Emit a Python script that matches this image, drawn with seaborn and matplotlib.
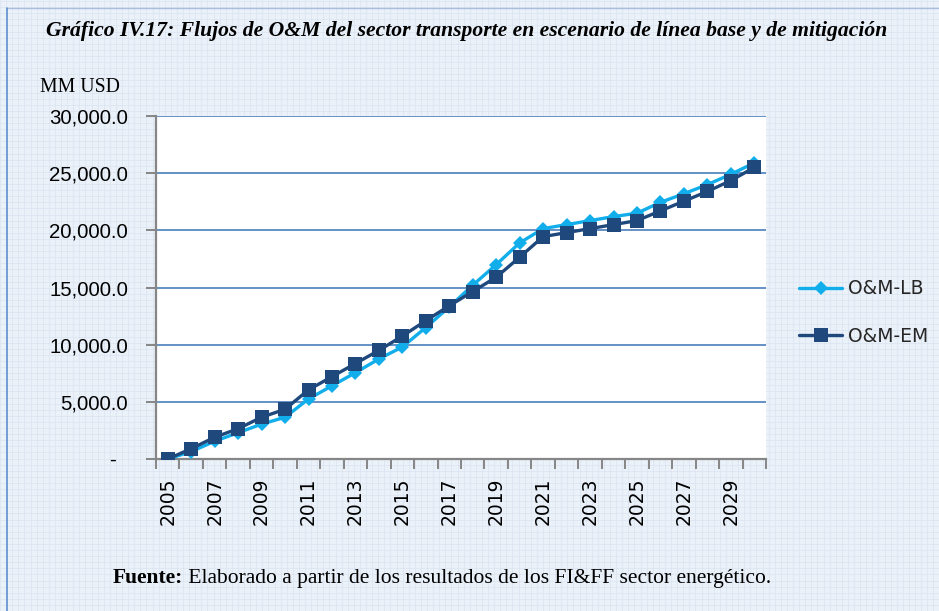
import numpy as np
import pandas as pd
import matplotlib
matplotlib.use("Agg")
import matplotlib.pyplot as plt
from matplotlib.lines import Line2D
import seaborn as sns

# ---------------- data ----------------
years = list(range(2005, 2031))
om_lb = [0, 650, 1550, 2300, 3050, 3650, 5250, 6400, 7550, 8750, 9800, 11500, 13300,
         15200, 17000, 18900, 20150, 20500, 20850, 21200, 21500, 22450, 23200, 24000,
         24900, 25900]
om_em = [0, 900, 1900, 2650, 3650, 4350, 6050, 7200, 8350, 9500, 10750, 12100, 13400,
         14650, 15900, 17650, 19450, 19800, 20150, 20500, 20850, 21700, 22550, 23400,
         24350, 25500]
series_names = ["O&M-LB", "O&M-EM"]
y_ticks = [0, 5000, 10000, 15000, 20000, 25000, 30000]
y_tick_labels = ["-  ", "5,000.0", "10,000.0", "15,000.0", "20,000.0", "25,000.0", "30,000.0"]

title = "Gráfico IV.17: Flujos de O&M del sector transporte en escenario de línea base y de mitigación"
unit_label = "MM USD"
source_bold = "Fuente:"
source_rest = " Elaborado a partir de los resultados de los FI&FF sector energético."

# ---------------- figure ----------------
sns.set_theme(style="white")
plt.rcParams["font.family"] = ["DejaVu Sans"]

W, H = 939, 611
fig = plt.figure(figsize=(W / 100, H / 100), dpi=100)
bg = "#EBF1F9"
fig.patch.set_facecolor(bg)

# graph-paper background
ax_bg = fig.add_axes([0, 0, 1, 1], zorder=-10)
ax_bg.set_xlim(0, W)
ax_bg.set_ylim(0, H)
ax_bg.set_facecolor(bg)
ax_bg.set_xticks(np.arange(0, W, 6.1))
ax_bg.set_yticks(np.arange(0, H, 6.1))
ax_bg.grid(True, color="#D9E3F0", linewidth=0.5)
ax_bg.tick_params(length=0, labelbottom=False, labelleft=False)
for s in ax_bg.spines.values():
    s.set_visible(False)

# border lines
fig.add_artist(Line2D([7 / W, 1], [1 - 8 / H, 1 - 8 / H], transform=fig.transFigure,
                      color="#A9BEDD", linewidth=1.0))
fig.add_artist(Line2D([7 / W, 7 / W], [0, 1 - 8 / H], transform=fig.transFigure,
                      color="#5F8FD0", linewidth=1.2))

left, right, top, bottom = 156, 766, 116, 459
ax = fig.add_axes([left / W, 1 - bottom / H, (right - left) / W, (bottom - top) / H])
ax.set_facecolor("white")

idx = np.arange(len(years))
df = pd.DataFrame({
    "idx": np.concatenate([idx, idx]),
    "value": om_lb + om_em,
    "series": [series_names[0]] * len(years) + [series_names[1]] * len(years),
})

lb_color = "#12AEEB"
em_color = "#1F497D"
sns.lineplot(data=df[df.series == series_names[0]], x="idx", y="value", ax=ax,
             color=lb_color, linewidth=2.4, marker="D", markersize=7.5,
             markeredgewidth=0, label=series_names[0], zorder=3)
sns.lineplot(data=df[df.series == series_names[1]], x="idx", y="value", ax=ax,
             color=em_color, linewidth=2.4, marker="s", markersize=10.5,
             markeredgewidth=0, label=series_names[1], zorder=4)

ax.set_xlim(-0.5, len(years) - 0.5)
ax.set_ylim(0, 30000)
ax.set_xlabel("")
ax.set_ylabel("")

# y axis
ax.set_yticks(y_ticks)
ax.set_yticklabels(y_tick_labels, fontfamily="Liberation Sans", fontsize=14.7, color="black")
ax.tick_params(axis="y", which="major", direction="out", length=7, width=1.4,
               color="#868686", pad=13, left=True)
ax.yaxis.grid(True, color="#4A7EBB", linewidth=1.2)
ax.set_axisbelow(True)

# x axis: ticks at category boundaries, labels at centers every other year
ax.set_xticks(np.arange(-0.5, len(years), 1.0))
ax.set_xticklabels([])
ax.set_xticks(idx[::2], minor=True)
ax.set_xticklabels([str(y) for y in years[::2]], minor=True, rotation=90,
                   fontfamily="DejaVu Sans", fontsize=13.5, color="black")
ax.tick_params(axis="x", which="major", direction="out", length=7, width=1.4,
               color="#868686", bottom=True)
ax.tick_params(axis="x", which="minor", length=0, pad=13, bottom=True)

for side in ["top", "right"]:
    ax.spines[side].set_visible(False)
for side in ["left", "bottom"]:
    ax.spines[side].set_color("#868686")
    ax.spines[side].set_linewidth(1.6)

# legend
handles, labels = ax.get_legend_handles_labels()
leg = ax.legend(handles, labels, loc="center left",
                bbox_to_anchor=(799 / W, 1 - 312.5 / H), bbox_transform=fig.transFigure,
                frameon=False, fontsize=13.5, handlelength=2.3, handletextpad=0.3,
                labelspacing=1.5, borderpad=0, borderaxespad=0)

# texts
fig.text(46 / W, 1 - 31 / H, title, fontfamily="Liberation Serif", fontweight="bold",
         fontstyle="italic", fontsize=15.6, va="center", ha="left", color="black")
fig.text(40 / W, 1 - 88 / H, unit_label, fontfamily="Liberation Serif", fontsize=14.2,
         va="center", ha="left", color="black")
t1 = fig.text(113 / W, 1 - 578 / H, source_bold, fontfamily="Liberation Serif",
              fontweight="bold", fontsize=15.5, va="center", ha="left", color="black")
r = fig.canvas.get_renderer()
bb = t1.get_window_extent(renderer=r)
fig.text(bb.x1 / W, 1 - 578 / H, source_rest, fontfamily="Liberation Serif", fontsize=15.5,
         va="center", ha="left", color="black")

fig.savefig("out.png", dpi=100, facecolor=fig.get_facecolor())
